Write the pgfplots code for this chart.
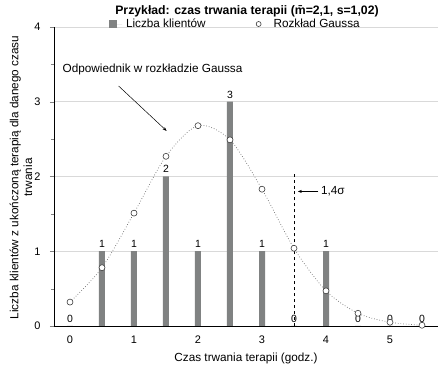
\documentclass[border=0pt]{standalone}
\usepackage{fontspec}
\setmainfont{Liberation Sans}
\usepackage{pgfplots}
\pgfplotsset{compat=1.18}
\usetikzlibrary{arrows.meta}
\definecolor{bargray}{RGB}{128,130,130}
\definecolor{markgray}{RGB}{60,60,60}
\definecolor{curvegray}{RGB}{110,110,110}
\newcommand{\lf}{\fontsize{11.8}{14}\selectfont}
\begin{document}
\begin{tikzpicture}
\begin{axis}[
  name=ax,
  scale only axis, width=384bp, height=299bp,
  xmin=-0.25, xmax=5.75, ymin=0, ymax=4,
  axis x line*=bottom, axis y line*=left,
  axis line style={line width=0.8pt},
  xtick={0,1,2,3,4,5}, ytick={0,1,2,3,4},
  minor ytick={0.5,1.5,2.5,3.5},
  x tick style={draw=none},
  tick align=outside,
  major tick length=4bp, minor tick length=3bp,
  ymajorgrids, grid style={gray!30, line width=0.6pt},
  tick label style={font=\fontsize{11}{13}\selectfont},
  xticklabel style={yshift=-2bp},
  yticklabel style={xshift=-6bp},
  /pgf/number format/assume math mode=true,
  xlabel={Czas trwania terapii (godz.)},
  xlabel style={font=\lf, at={(axis description cs:0.5,-0.107)}, anchor=center},
  ylabel={Liczba klientów z ukończoną terapią dla danego czasu\\[1bp]trwania},
  ylabel style={font=\fontsize{11.8}{13}\selectfont, align=center, at={(axis description cs:-0.086,0.497)}, anchor=center},
  legend columns=2,
  legend style={draw=none, fill=none, at={(0.143,1.01)}, anchor=west, inner sep=0pt,
    nodes={inner sep=3.9bp},
    /tikz/every even column/.append style={column sep=46bp}},
]
\addplot[ybar, bar width=6bp, fill=bargray, draw=none,
  nodes near coords, nodes near coords style={font=\fontsize{10.5}{12}\selectfont, /pgf/number format/assume math mode=true},
  legend image code/.code={\fill[bargray] (0bp,-4bp) rectangle (8bp,4bp); \path[draw=none] (0bp,0bp) -- (13bp,0bp);}]
  coordinates {(0,0) (0.5,1) (1,1) (1.5,2) (2,1) (2.5,3) (3,1) (3.5,0) (4,1) (4.5,0) (5,0) (5.5,0)};
\addlegendentry{\lf Liczba klientów}
\addplot[smooth, dotted, color=curvegray, line width=0.7pt, mark=*, mark size=3bp,
  mark options={solid, fill=white, draw=markgray, line width=0.6pt},
  legend image code/.code={\draw[solid, markgray, fill=white, line width=0.6pt] (3bp,0) circle (2.5bp); \path[draw=none] (0bp,0bp) -- (14bp,0bp);}]
  coordinates {(0,0.32) (0.5,0.78) (1,1.51) (1.5,2.27) (2,2.68) (2.5,2.49) (3,1.83) (3.5,1.04) (4,0.47) (4.5,0.17) (5,0.05) (5.5,0.01)};
\addlegendentry{\lf Rozkład Gaussa}
\addplot[dashed, black, line width=0.6pt, forget plot] coordinates {(3.5,0) (3.5,2.03)};
\draw[-{Stealth[length=4bp,width=3bp]}, line width=0.5pt] (axis cs:3.88,1.8) -- (axis cs:3.56,1.8);
\node[anchor=west, font=\lf, inner sep=0pt] at (axis cs:3.92,1.8) {1,4σ};
\node[font=\lf, inner sep=0pt] at (axis cs:1.29,3.43) {Odpowiednik w rozkładzie Gaussa};
\draw[-{Stealth[length=4bp,width=3bp]}, line width=0.5pt] (axis cs:0.76,3.21) -- (axis cs:1.51,2.61);
\end{axis}
\node[font=\fontsize{12.3}{14}\bfseries] at ([xshift=1bp,yshift=16bp]ax.north) {Przykład: czas trwania terapii (\={m}=2,1, s=1,02)};
\pgfresetboundingbox
\path[use as bounding box] ([xshift=-54bp,yshift=-40bp]ax.south west) rectangle ([xshift=1bp,yshift=27bp]ax.north east);
\end{tikzpicture}
\end{document}
